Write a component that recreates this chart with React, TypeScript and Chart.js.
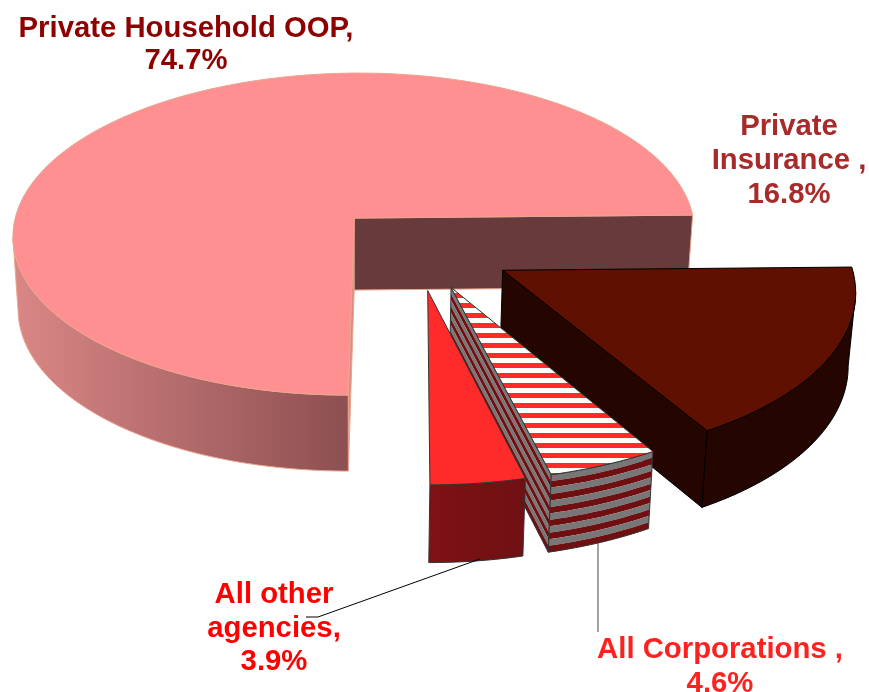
import React, { useEffect, useRef } from "react";
import { Chart, registerables } from "chart.js";

Chart.register(...registerables);

const categories = ["Private Household OOP", "Private Insurance", "All Corporations", "All other agencies"];
const shares = [74.7, 16.8, 4.6, 3.9];
const explode = [77.7, 85.5, 78, 78];
const topColors = ["#fe9091", "#5f1000", "#ff2a2a", "#ff2a2a"];

// view (oblique projection of the pie plane)
const VIEW = { cx: 354, cy: 218, a: 339, b: 159.4, p: 0.0994, shear: 0.034, ox: 0.1835, oy: 0.18, depth: 72, depthV: 4, shrink: 0.985 };

type Wall = { start?: string; end?: string; rim: any; stroke: string; lw: number; bands?: string[] };
const WALLS: Wall[] = [
  { start: "#d98a84", end: "#673a3c", rim: ["#da8786", "#8d4f51"], stroke: "#eaa58e", lw: 1 },
  { end: "#240500", rim: "#240500", stroke: "#000000", lw: 1 },
  { end: "#777777", rim: "#777777", stroke: "#333333", lw: 1, bands: ["#777777", "#6f0f12"] },
  { rim: ["#7e1215", "#6f1012"], stroke: "#333333", lw: 1 },
];

const LABELS = [
  { lines: ["Private Household OOP,", "74.7%"], x: 186, y: 37, lh: 32, color: "#8f0000" },
  { lines: ["Private", "Insurance ,", "16.8%"], x: 789, y: 135, lh: 34, color: "#a82a2a" },
  { lines: ["All Corporations ,", "4.6%"], x: 720, y: 658, lh: 34, color: "#ff2020" },
  { lines: ["All other", "agencies,", "3.9%"], x: 274, y: 603, lh: 33.5, color: "#ff0000" },
];
const LEADERS = [
  { pts: [[480, 559], [318, 617], [306, 617]], color: "#000000" },
  { pts: [[598, 543], [598, 632]], color: "#444444" },
];

function project(u: number, v: number, t = 0) {
  const { cx, cy, a, b, p, shear, depth, depthV, shrink } = VIEW;
  const w = 1 - p * v;
  const X = (a * u) / w;
  const Y = (b * v) / w;
  const s = 1 + (shrink - 1) * t;
  return { x: cx + (X - shear * Y) * s, y: cy + Y + t * (depth + depthV * v) };
}

const pie3d = {
  id: "pie3d",
  beforeDatasetsDraw(chart: any) {
    const ctx: CanvasRenderingContext2D = chart.ctx;
    const arcs = chart.getDatasetMeta(0).data;
    arcs.forEach((arc: any, i: number) => {
      const R = arc.outerRadius;
      const mid = (arc.startAngle + arc.endAngle) / 2;
      const e = arc.options.offset / R;
      const ax = VIEW.ox + e * Math.cos(mid);
      const ay = VIEW.oy + e * Math.sin(mid);
      const n = Math.max(8, Math.ceil((arc.endAngle - arc.startAngle) * 40));
      const rim: [number, number][] = [];
      for (let k = 0; k <= n; k++) {
        const th = arc.startAngle + ((arc.endAngle - arc.startAngle) * k) / n;
        rim.push([ax + Math.cos(th), ay + Math.sin(th)]);
      }
      const style = WALLS[i];
      const wallPath = (pts: [number, number][], t0: number, t1: number) => {
        ctx.beginPath();
        pts.forEach(([u, v], j) => {
          const q = project(u, v, t0);
          j ? ctx.lineTo(q.x, q.y) : ctx.moveTo(q.x, q.y);
        });
        [...pts].reverse().forEach(([u, v]) => {
          const q = project(u, v, t1);
          ctx.lineTo(q.x, q.y);
        });
        ctx.closePath();
      };
      const paintWall = (pts: [number, number][], fill: any) => {
        if (style.bands) {
          const count = 12;
          for (let b = 0; b < count; b++) {
            wallPath(pts, b / count, (b + 1) / count);
            ctx.fillStyle = style.bands[b % 2];
            ctx.fill();
          }
        } else {
          ctx.fillStyle = fill;
          wallPath(pts, 0, 1);
          ctx.fill();
        }
        wallPath(pts, 0, 1);
        ctx.strokeStyle = style.stroke;
        ctx.lineWidth = style.lw;
        ctx.stroke();
      };
      const first = rim[0];
      const last = rim[rim.length - 1];
      // radial wall at the start angle: seen when its edge runs leftwards
      if (style.start && project(first[0], first[1]).x < project(ax, ay).x) {
        paintWall([[ax, ay], first], style.start);
      }
      if (style.end && project(last[0], last[1]).x > project(ax, ay).x) {
        paintWall([last, [ax, ay]], style.end);
      }
      // rim wall: the part whose edge runs leftwards in draw order
      const seen: [number, number][] = [];
      for (let k = 0; k < rim.length; k++) {
        const here = project(rim[k][0], rim[k][1]).x;
        const next = k < rim.length - 1 ? project(rim[k + 1][0], rim[k + 1][1]).x : Infinity;
        const prev = k > 0 ? project(rim[k - 1][0], rim[k - 1][1]).x : -Infinity;
        if (next < here || prev > here) seen.push(rim[k]);
      }
      if (seen.length > 1) {
        let fill = style.rim;
        if (Array.isArray(fill)) {
          const x0 = project(seen[seen.length - 1][0], seen[seen.length - 1][1]).x;
          const x1 = project(seen[0][0], seen[0][1]).x;
          const g = ctx.createLinearGradient(x0, 0, x1, 0);
          g.addColorStop(0, style.rim[0]);
          g.addColorStop(1, style.rim[1]);
          fill = g;
        }
        paintWall(seen, fill);
      }
      // top face
      const top = () => {
        ctx.beginPath();
        const o = project(ax, ay);
        ctx.moveTo(o.x, o.y);
        rim.forEach(([u, v]) => {
          const q = project(u, v);
          ctx.lineTo(q.x, q.y);
        });
        ctx.closePath();
      };
      top();
      ctx.fillStyle = arc.options.backgroundColor;
      ctx.fill();
      if (style.bands) {
        ctx.save();
        top();
        ctx.clip();
        ctx.fillStyle = "#ffffff";
        for (let y = 288; y < 490; y += 10) ctx.fillRect(400, y, 300, 5);
        ctx.restore();
      }
      top();
      ctx.strokeStyle = style.stroke;
      ctx.lineWidth = style.lw;
      ctx.stroke();
    });
    return false;
  },
  afterDraw(chart: any) {
    const ctx: CanvasRenderingContext2D = chart.ctx;
    ctx.save();
    LEADERS.forEach((l) => {
      ctx.beginPath();
      l.pts.forEach(([x, y], j) => (j ? ctx.lineTo(x, y) : ctx.moveTo(x, y)));
      ctx.strokeStyle = l.color;
      ctx.lineWidth = 1;
      ctx.stroke();
    });
    ctx.font = 'bold 29.3px "Liberation Sans", Arial, sans-serif';
    ctx.textAlign = "center";
    ctx.textBaseline = "alphabetic";
    LABELS.forEach((l) => {
      ctx.fillStyle = l.color;
      l.lines.forEach((s, j) => ctx.fillText(s, l.x, l.y + j * l.lh));
    });
    ctx.restore();
  },
};

export default function App() {
  const ref = useRef<HTMLCanvasElement>(null);
  useEffect(() => {
    const chart = new Chart(ref.current!, {
      type: "pie",
      data: {
        labels: categories,
        datasets: [{ data: shares, backgroundColor: topColors, offset: explode, borderWidth: 0 }],
      },
      options: {
        animation: false,
        responsive: false,
        rotation: 180,
        layout: { padding: 0 },
        plugins: { legend: { display: false }, tooltip: { enabled: false } },
      },
      plugins: [pie3d],
    } as any);
    return () => chart.destroy();
  }, []);
  return (
    <canvas
      ref={ref}
      width={869}
      height={692}
      style={{ position: "absolute", left: 0, top: 0, width: 869, height: 692, background: "#ffffff" }}
    />
  );
}
